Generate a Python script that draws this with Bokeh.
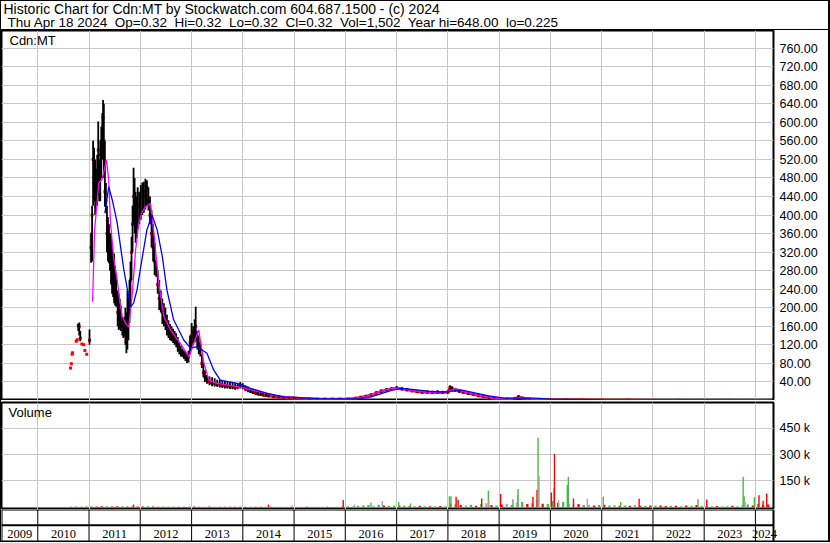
import numpy as np
import pandas as pd
from bokeh.plotting import figure
from bokeh.layouts import column
from bokeh.models import (ColumnDataSource, FixedTicker, Label, LabelSet, Range1d,
                          NumeralTickFormatter)
from bokeh.embed import file_html
from bokeh.resources import INLINE

# ---------------- data (decimal years, prices, volumes in k) ----------------
price_t = [2010.64, 2010.655, 2010.67, 2010.68, 2010.75, 2010.77, 2010.79, 2010.81, 2010.83, 2010.86,
           2010.90, 2010.92, 2010.955, 2011.01, 2011.04, 2011.06, 2011.08, 2011.10, 2011.12, 2011.14,
           2011.16, 2011.18, 2011.20, 2011.22, 2011.24, 2011.26, 2011.275, 2011.29, 2011.31, 2011.33,
           2011.35, 2011.37, 2011.39, 2011.41, 2011.43, 2011.45, 2011.47, 2011.49, 2011.51, 2011.53,
           2011.56, 2011.58, 2011.60, 2011.62, 2011.65, 2011.67, 2011.69, 2011.71, 2011.73, 2011.75,
           2011.77, 2011.79, 2011.81, 2011.83, 2011.85, 2011.87, 2011.89, 2011.91, 2011.93, 2011.95,
           2011.98, 2012.01, 2012.04, 2012.07, 2012.10, 2012.13, 2012.16, 2012.19, 2012.22, 2012.25,
           2012.28, 2012.31, 2012.34, 2012.37, 2012.40, 2012.43, 2012.46, 2012.49, 2012.52, 2012.55,
           2012.58, 2012.61, 2012.64, 2012.67, 2012.70, 2012.73, 2012.76, 2012.79, 2012.82, 2012.85,
           2012.88, 2012.91, 2012.94, 2012.97, 2013.00, 2013.03, 2013.06, 2013.08, 2013.11, 2013.14,
           2013.17, 2013.20, 2013.23, 2013.26, 2013.30, 2013.35, 2013.40, 2013.45, 2013.50, 2013.55,
           2013.60, 2013.65, 2013.70, 2013.75, 2013.80, 2013.85, 2013.90, 2013.95, 2014.00, 2014.05,
           2014.10, 2014.15, 2014.20, 2014.25, 2014.30, 2014.35, 2014.40, 2014.45, 2014.50, 2014.60,
           2014.70, 2014.80, 2014.90, 2015.00, 2015.15, 2015.30, 2015.45, 2015.60, 2015.75, 2015.90,
           2016.05, 2016.20, 2016.30, 2016.40, 2016.50, 2016.60, 2016.70, 2016.80, 2016.90, 2017.00,
           2017.10, 2017.20, 2017.30, 2017.40, 2017.50, 2017.60, 2017.70, 2017.80, 2017.90, 2018.00,
           2018.04, 2018.08, 2018.14, 2018.22, 2018.30, 2018.40, 2018.50, 2018.60, 2018.70, 2018.80,
           2018.90, 2019.00, 2019.15, 2019.30, 2019.38, 2019.46, 2019.60, 2019.80, 2020.00, 2020.30,
           2020.60, 2021.00, 2021.50, 2022.00, 2022.50, 2023.00, 2023.50, 2024.00, 2024.297]
price_hi = [70, 79, 100, 103, 128, 131, 166, 168, 150, 122,
            120, 108, 100, 153, 362, 420, 560, 545, 520, 500,
            530, 602, 520, 560, 590, 620, 648, 640, 560, 469,
            420, 396, 380, 360, 361, 330, 300, 317, 290, 270,
            237, 230, 220, 205, 180, 175, 180, 200, 190, 237,
            220, 260, 300, 353, 420, 502, 480, 450, 440, 460,
            450, 465, 470, 472, 478, 475, 460, 440, 411, 380,
            340, 300, 281, 260, 237, 220, 210, 200, 185, 173,
            165, 160, 155, 150, 145, 137, 125, 118, 112, 108,
            105, 100, 108, 140, 167, 160, 175, 202, 150, 140,
            125, 100, 81, 65, 55, 52, 50, 48, 45, 44,
            43, 42, 41, 40, 39, 38, 36, 40, 37, 33,
            30, 27, 25, 23, 21, 19, 17, 15, 14, 12,
            11, 9, 8, 7, 6, 5, 4.5, 4, 4, 4.5,
            5, 7, 9, 12, 15, 20, 24, 27, 29, 31,
            29, 27, 25, 23, 22, 22, 21, 22, 21, 22,
            33, 31, 27, 24, 22, 19, 17, 14, 12, 10,
            8, 6, 5, 6, 11, 8, 5, 4, 3, 2.5,
            2.2, 2, 1.5, 1.2, 1, 0.8, 0.7, 0.5, 0.32]
price_lo = [70, 79, 100, 103, 128, 131, 150, 140, 128, 122,
            120, 108, 100, 120, 297, 300, 420, 430, 400, 410,
            420, 440, 430, 430, 480, 520, 540, 480, 418, 405,
            320, 300, 296, 280, 250, 230, 223, 210, 205, 202,
            160, 152, 155, 150, 140, 135, 140, 120, 102, 110,
            130, 167, 200, 260, 320, 380, 360, 340, 350, 370,
            380, 390, 400, 405, 412, 420, 410, 380, 330, 300,
            270, 267, 230, 195, 190, 165, 160, 152, 140, 135,
            130, 128, 124, 120, 115, 105, 100, 95, 94, 90,
            85, 81, 82, 100, 115, 120, 125, 130, 110, 100,
            95, 70, 50, 40, 36, 33, 31, 30, 29, 28,
            27, 26, 26, 25, 24, 23, 24, 26, 24, 20,
            18, 16, 14, 12, 11, 10, 9, 8, 7, 6,
            5, 4, 4, 3, 3, 2.5, 2, 2, 2, 2,
            2.5, 3, 4, 6, 9, 12, 15, 19, 22, 23,
            22, 20, 18, 16, 15, 15, 15, 15, 15, 15,
            18, 20, 19, 17, 15, 12, 10, 8, 6, 4,
            3, 2, 2, 2, 4, 3, 2, 1.5, 1, 0.8,
            0.8, 0.6, 0.5, 0.4, 0.4, 0.3, 0.25, 0.225, 0.32]
price_cl = [70, 79, 100, 103, 128, 131, 162, 160, 134, 122,
            120, 108, 100, 130, 330, 400, 520, 470, 450, 470,
            460, 540, 480, 530, 560, 590, 610, 560, 450, 430,
            360, 340, 320, 300, 290, 270, 250, 260, 230, 220,
            190, 180, 170, 165, 160, 150, 155, 140, 130, 150,
            180, 220, 260, 320, 380, 440, 400, 380, 400, 420,
            420, 440, 450, 440, 450, 460, 430, 400, 360, 330,
            300, 280, 250, 220, 210, 190, 180, 170, 160, 150,
            145, 140, 135, 130, 125, 118, 110, 105, 100, 96,
            92, 88, 95, 125, 140, 145, 150, 160, 130, 120,
            105, 80, 60, 50, 44, 40, 38, 36, 35, 34,
            33, 32, 31, 30, 29, 28, 30, 33, 30, 26,
            23, 20, 18, 16, 14, 13, 12, 11, 10, 8,
            7, 6, 5, 5, 4, 3.5, 3, 3, 3, 3,
            3.5, 5, 7, 9, 12, 16, 20, 23, 25, 27,
            25, 23, 21, 19, 18, 18, 17, 18, 17, 18,
            28, 26, 23, 20, 18, 15, 13, 10, 8, 6,
            5, 4, 3, 4, 8, 5, 3, 2.5, 2, 1.6,
            1.4, 1.1, 0.9, 0.8, 0.6, 0.5, 0.4, 0.35, 0.32]

ma_short_t = [2011.07, 2011.11, 2011.19, 2011.26, 2011.34, 2011.385, 2011.42, 2011.48, 2011.55, 2011.60,
              2011.65, 2011.72, 2011.775, 2011.84, 2011.91, 2011.97, 2012.03, 2012.10, 2012.20, 2012.26,
              2012.36, 2012.46, 2012.59, 2012.78, 2012.95, 2013.04, 2013.14, 2013.24, 2013.34, 2013.50,
              2013.89, 2014.28, 2014.67, 2015.12, 2015.50, 2016.00, 2016.30, 2016.50, 2016.70, 2016.90,
              2017.05, 2017.30, 2017.60, 2017.90, 2018.06, 2018.15, 2018.30, 2018.60, 2018.90, 2019.20,
              2019.42, 2019.60, 2020.00, 2021.00, 2022.00, 2023.00, 2024.297]
ma_short_v = [213, 368, 469, 478, 519, 476, 383, 310, 260, 215,
              181, 165, 159, 224, 325, 382, 405, 418, 425, 368,
              253, 181, 152, 123, 94, 123, 152, 80, 44, 37,
              30, 20, 10, 6, 3.5, 3.2, 6, 12, 20, 26,
              27, 21, 18, 17, 22, 26, 19, 11, 5, 3,
              7, 4, 2, 1.1, 0.8, 0.5, 0.35]

ma_long_t = [2011.31, 2011.385, 2011.46, 2011.55, 2011.68, 2011.81, 2011.87, 2011.94, 2012.00, 2012.13,
             2012.23, 2012.33, 2012.43, 2012.52, 2012.65, 2012.85, 2012.98, 2013.11, 2013.30, 2013.43,
             2013.56, 2013.89, 2014.15, 2014.48, 2014.80, 2015.12, 2015.50, 2016.00, 2016.30, 2016.50,
             2016.70, 2016.90, 2017.10, 2017.30, 2017.60, 2017.90, 2018.10, 2018.25, 2018.50, 2018.80,
             2019.10, 2019.40, 2019.70, 2020.00, 2021.00, 2022.00, 2023.00, 2024.297]
ma_long_v = [404, 461, 430, 383, 282, 202, 210, 240, 282, 368,
             400, 368, 310, 238, 174, 130, 113, 116, 102, 66,
             44, 37, 26, 15.5, 8, 6, 4, 3.5, 4, 8,
             15, 22, 26, 24, 20, 18, 20, 23, 17, 10,
             5, 5, 5, 3, 1.5, 0.8, 0.6, 0.4]

# baseline daily volume (k) sampled through the years; colour: g=up, r=down, n=unchanged
vol_base_t = [2010.65, 2010.75, 2010.85, 2010.95,
              2011.05, 2011.15, 2011.25, 2011.35, 2011.45, 2011.55, 2011.65, 2011.75, 2011.85, 2011.95,
              2012.05, 2012.15, 2012.25, 2012.35, 2012.45, 2012.55, 2012.65, 2012.75, 2012.85, 2012.95,
              2013.05, 2013.15, 2013.25, 2013.35, 2013.45, 2013.55, 2013.65, 2013.75, 2013.85, 2013.95,
              2014.05, 2014.15, 2014.25, 2014.35, 2014.45, 2014.55, 2014.65, 2014.75, 2014.85, 2014.95,
              2015.05, 2015.15, 2015.25, 2015.35, 2015.45, 2015.55, 2015.65, 2015.75, 2015.85, 2015.95,
              2016.05, 2016.15, 2016.25, 2016.35, 2016.45, 2016.55, 2016.65, 2016.75, 2016.85, 2016.95,
              2017.05, 2017.15, 2017.25, 2017.35, 2017.45, 2017.55, 2017.65, 2017.75, 2017.85, 2017.95,
              2018.05, 2018.15, 2018.25, 2018.35, 2018.45, 2018.55, 2018.65, 2018.75, 2018.85, 2018.95,
              2019.05, 2019.15, 2019.25, 2019.35, 2019.45, 2019.55, 2019.65, 2019.75, 2019.85, 2019.95,
              2020.05, 2020.15, 2020.25, 2020.35, 2020.45, 2020.55, 2020.65, 2020.75, 2020.85, 2020.95,
              2021.05, 2021.15, 2021.25, 2021.35, 2021.45, 2021.55, 2021.65, 2021.75, 2021.85, 2021.95,
              2022.05, 2022.15, 2022.25, 2022.35, 2022.45, 2022.55, 2022.65, 2022.75, 2022.85, 2022.95,
              2023.05, 2023.15, 2023.25, 2023.35, 2023.45, 2023.55, 2023.65, 2023.75, 2023.85, 2023.95,
              2024.05, 2024.15, 2024.25]
vol_base_v = [3, 4, 3, 5,
              5, 4, 6, 5, 4, 5, 6, 4, 5, 4,
              4, 5, 4, 3, 4, 3, 4, 3, 3, 4,
              4, 3, 3, 4, 3, 3, 3, 4, 3, 3,
              3, 3, 2, 3, 2, 3, 2, 2, 2, 3,
              2, 2, 3, 2, 2, 3, 2, 2, 3, 4,
              5, 6, 8, 10, 12, 9, 14, 10, 8, 9,
              10, 8, 6, 7, 8, 6, 5, 6, 7, 6,
              20, 15, 12, 10, 14, 9, 18, 22, 12, 10,
              15, 20, 12, 25, 30, 18, 22, 40, 20, 18,
              35, 25, 30, 20, 15, 18, 12, 14, 10, 12,
              14, 10, 12, 9, 10, 8, 12, 9, 8, 10,
              8, 10, 7, 9, 8, 6, 10, 8, 12, 7,
              6, 5, 7, 6, 5, 8, 6, 12, 15, 10,
              18, 12, 15]
vol_base_c = list("rgrg" "grrgrrgrgr" "rgrrgrgrrg" "rrgrgrrgrr" "rgrrgrnnnr" "nnrnnnrnnr"
                  "gngggngrgg" "rgrnrgrnrg" "rgrngrgnrg" "rngngrgnrg" "grgrnrgnrg" "rgnrgrnrgr"
                  "grrgrgrgrg" "rgrngrgngr" "grr")

# notable volume bars (k)
vol_spike_t = [2011.87, 2014.50, 2014.96, 2015.96, 2016.18, 2016.50, 2016.72, 2017.04, 2017.27, 2018.03,
               2018.06, 2018.16, 2018.20, 2018.66, 2018.79, 2018.80, 2019.03, 2019.27, 2019.36, 2019.37,
               2019.66, 2019.74, 2019.76, 2019.78, 2020.02, 2020.07, 2020.08, 2020.16, 2020.33, 2020.35,
               2020.45, 2020.72, 2021.03, 2021.37, 2021.73, 2022.88, 2023.05, 2023.76, 2023.78, 2023.80,
               2023.98, 2024.07, 2024.15, 2024.22]
vol_spike_v = [16, 15, 10, 41, 15, 25, 35, 30, 21, 63,
               63, 60, 43, 50, 96, 40, 75, 45, 70, 104,
               60, 98, 397, 178, 84, 109, 304, 40, 127, 174,
               50, 48, 60, 30, 48, 46, 44, 174, 63, 30,
               57, 69, 37, 79]
vol_spike_c = list("rrnrngngggg" "rrrgnrgng" "rrgnrgrngg" "rnggrgrggn" "grrr")

price_ticks = [40, 80, 120, 160, 200, 240, 280, 320, 360, 400, 440, 480, 520, 560, 600, 640, 680, 720, 760]
vol_ticks = [150000, 300000, 450000]
vol_tick_labels = {150000: "150 k", 300000: "300 k", 450000: "450 k"}
year_labels = ["2009", "2010", "2011", "2012", "2013", "2014", "2015", "2016", "2017", "2018",
               "2019", "2020", "2021", "2022", "2023", "2024"]

header1 = "Historic Chart for Cdn:MT by Stockwatch.com 604.687.1500 - (c) 2024"
header2 = "Thu Apr 18 2024  Op=0.32  Hi=0.32  Lo=0.32  Cl=0.32  Vol=1,502  Year hi=648.00  lo=0.225"

# ---------------- helpers ----------------
def to_dt(ts):
    out = []
    for v in ts:
        y = int(np.floor(v))
        a = pd.Timestamp(year=y, month=1, day=1)
        b = pd.Timestamp(year=y + 1, month=1, day=1)
        out.append(a + (b - a) * (v - y))
    return pd.DatetimeIndex(out)

FONT = "Liberation Sans"
W = 827
RB = 55
FW = W - RB
DAY_MS = 86400000.0

x_start = to_dt([2009.292])[0]
x_end = to_dt([2024.352])[0]
xr = Range1d(start=x_start.to_pydatetime(), end=x_end.to_pydatetime())
# the year strip spans the whole width (its frame also covers the blank right column)
strip_end = x_end + (x_end - x_start) * (RB / FW)
xr_strip = Range1d(start=x_start.to_pydatetime(), end=strip_end.to_pydatetime())

year_start = [int(l) for l in year_labels]
bounds = [pd.Timestamp(year=y, month=1, day=1) for y in year_start[1:]]
bounds_ms = [b.value / 1e6 for b in bounds]

colmap = {"g": "#4CB848", "r": "#FF0000", "n": "#A8A8A8"}
GRID = "#C8C8C8"


def style_common(p):
    p.outline_line_color = "black"
    p.outline_line_width = 2
    p.outline_line_alpha = 1
    p.background_fill_color = "white"
    p.border_fill_color = "white"


def style_yaxis(ax):
    ax.major_tick_out = 0
    ax.major_tick_in = 0
    ax.minor_tick_out = 0
    ax.minor_tick_in = 0
    ax.axis_line_color = None
    ax.major_label_standoff = 6
    ax.major_label_text_font = FONT
    ax.major_label_text_font_size = "12.5px"
    ax.major_label_text_color = "#000010"


# ---------------- header ----------------
hd = figure(width=W, height=29, x_range=Range1d(0, 1), y_range=Range1d(0, 1),
            x_axis_location=None, y_axis_location=None, toolbar_location=None,
            output_backend="svg", min_border_left=0, min_border_right=0,
            min_border_top=0, min_border_bottom=0,
            styles={"border-bottom": "1px solid black"})
hd.outline_line_color = None
hd.background_fill_color = "white"
hd.border_fill_color = "white"
hd.xgrid.visible = False
hd.ygrid.visible = False
hd.add_layout(Label(x=2, y=21.2, x_units="screen", y_units="screen", text=header1,
                    text_font=FONT, text_font_size="14px", text_baseline="alphabetic",
                    text_color="black"))
hd.add_layout(Label(x=6, y=7.6, x_units="screen", y_units="screen",
                    text=header2.replace("  ", "\u00a0 "),
                    text_font=FONT, text_font_size="13.5px", text_baseline="alphabetic",
                    text_color="black"))

# ---------------- price panel ----------------
pp = figure(width=W, height=370, x_range=xr, y_range=Range1d(0, 798),
            x_axis_type="datetime", x_axis_location=None, y_axis_location="right",
            toolbar_location=None, output_backend="svg",
            min_border_left=0, min_border_right=RB, min_border_top=0, min_border_bottom=0)
style_common(pp)
pp.xgrid.ticker = FixedTicker(ticks=bounds_ms)
pp.xgrid.grid_line_color = GRID
pp.ygrid.grid_line_color = GRID
pp.yaxis.ticker = FixedTicker(ticks=price_ticks)
pp.yaxis.formatter = NumeralTickFormatter(format="0.00")
style_yaxis(pp.yaxis[0])

t_arr = np.array(price_t)
psrc = ColumnDataSource(dict(x=to_dt(price_t), hi=price_hi, lo=price_lo, cl=price_cl))
flat = t_arr >= 2013.3
fsrc = ColumnDataSource(dict(x=to_dt(t_arr[flat]), cl=np.array(price_cl)[flat]))
pp.line("x", "cl", source=fsrc, line_color="#FF0000", line_width=2.5)
pp.scatter("x", "cl", source=psrc, marker="square", size=3, line_color=None,
           fill_color="#FF0000")
pp.segment(x0="x", y0="lo", x1="x", y1="hi", source=psrc, line_color="black", line_width=1.8)
pp.line(to_dt(ma_short_t), ma_short_v, line_color="#FF00FF", line_width=1.3)
pp.line(to_dt(ma_long_t), ma_long_v, line_color="#0000FF", line_width=1.3)
pp.add_layout(Label(x=8, y=367.5, x_units="screen", y_units="screen", text="Cdn:MT",
                    text_font=FONT, text_font_size="13px", text_baseline="top",
                    text_color="black"))

# ---------------- volume panel ----------------
vp = figure(width=W, height=109, x_range=xr, y_range=Range1d(-13000, 598000),
            x_axis_type="datetime", x_axis_location=None, y_axis_location="right",
            toolbar_location=None, output_backend="svg",
            min_border_left=0, min_border_right=RB, min_border_top=2, min_border_bottom=0)
style_common(vp)
vp.xgrid.ticker = FixedTicker(ticks=bounds_ms)
vp.xgrid.grid_line_color = GRID
vp.ygrid.grid_line_color = GRID
vp.yaxis.ticker = FixedTicker(ticks=vol_ticks)
vp.yaxis.major_label_overrides = vol_tick_labels
style_yaxis(vp.yaxis[0])

bsrc = ColumnDataSource(dict(x=to_dt(vol_base_t), top=np.array(vol_base_v) * 1000.0,
                             c=[colmap[c] for c in vol_base_c]))
vp.vbar(x="x", top="top", bottom=0, width=16 * DAY_MS, source=bsrc, fill_color="c",
        line_color=None)
ssrc = ColumnDataSource(dict(x=to_dt(vol_spike_t), top=np.array(vol_spike_v) * 1000.0,
                             c=[colmap[c] for c in vol_spike_c]))
vp.vbar(x="x", top="top", bottom=0, width=10 * DAY_MS, source=ssrc, fill_color="c",
        line_color=None)
vp.add_layout(Label(x=7, y=104.5, x_units="screen", y_units="screen", text="Volume",
                    text_font=FONT, text_font_size="13px", text_baseline="top",
                    text_color="black"))

# ---------------- year strip ----------------
sp = figure(width=W, height=32, x_range=xr_strip, y_range=Range1d(0, 2),
            x_axis_type="datetime", x_axis_location=None, y_axis_location=None,
            toolbar_location=None, output_backend="svg",
            min_border_left=0, min_border_right=0, min_border_top=0, min_border_bottom=0)
sp.frame_align = False
sp.outline_line_color = None
sp.background_fill_color = "white"
sp.border_fill_color = "white"
sp.xgrid.visible = False
sp.ygrid.visible = False
mids = []
for y in year_start:
    a = max(pd.Timestamp(year=y, month=1, day=1), x_start)
    b = min(pd.Timestamp(year=y + 1, month=1, day=1), x_end)
    mids.append(a + (b - a) / 2)
lsrc = ColumnDataSource(dict(x=pd.DatetimeIndex(mids), y=[0.48] * len(mids), t=year_labels))
sp.add_layout(LabelSet(x="x", y="y", text="t", source=lsrc, text_align="center",
                       text_baseline="middle", text_font=FONT, text_font_size="12.5px",
                       text_color="black"))
# year separators in both rows, and the row lines
sp.segment(x0=bounds, y0=[0] * len(bounds), x1=bounds, y1=[2] * len(bounds),
           line_color="black", line_width=1)
sp.segment(x0=[x_start, x_start, x_start, x_start, x_end],
           y0=[2, 1.01, 0, 0, 0],
           x1=[x_end, x_end, strip_end, x_start, x_end],
           y1=[2, 1.01, 0, 2, 2],
           line_color="black", line_width=2)

layout = column(hd, pp, vp, sp, spacing=0,
                styles={"border-top": "1px solid black", "border-left": "1px solid black",
                        "border-bottom": "1px solid black", "border-right": "2px solid black"})

open("out.html", "w").write(file_html(layout, INLINE))
